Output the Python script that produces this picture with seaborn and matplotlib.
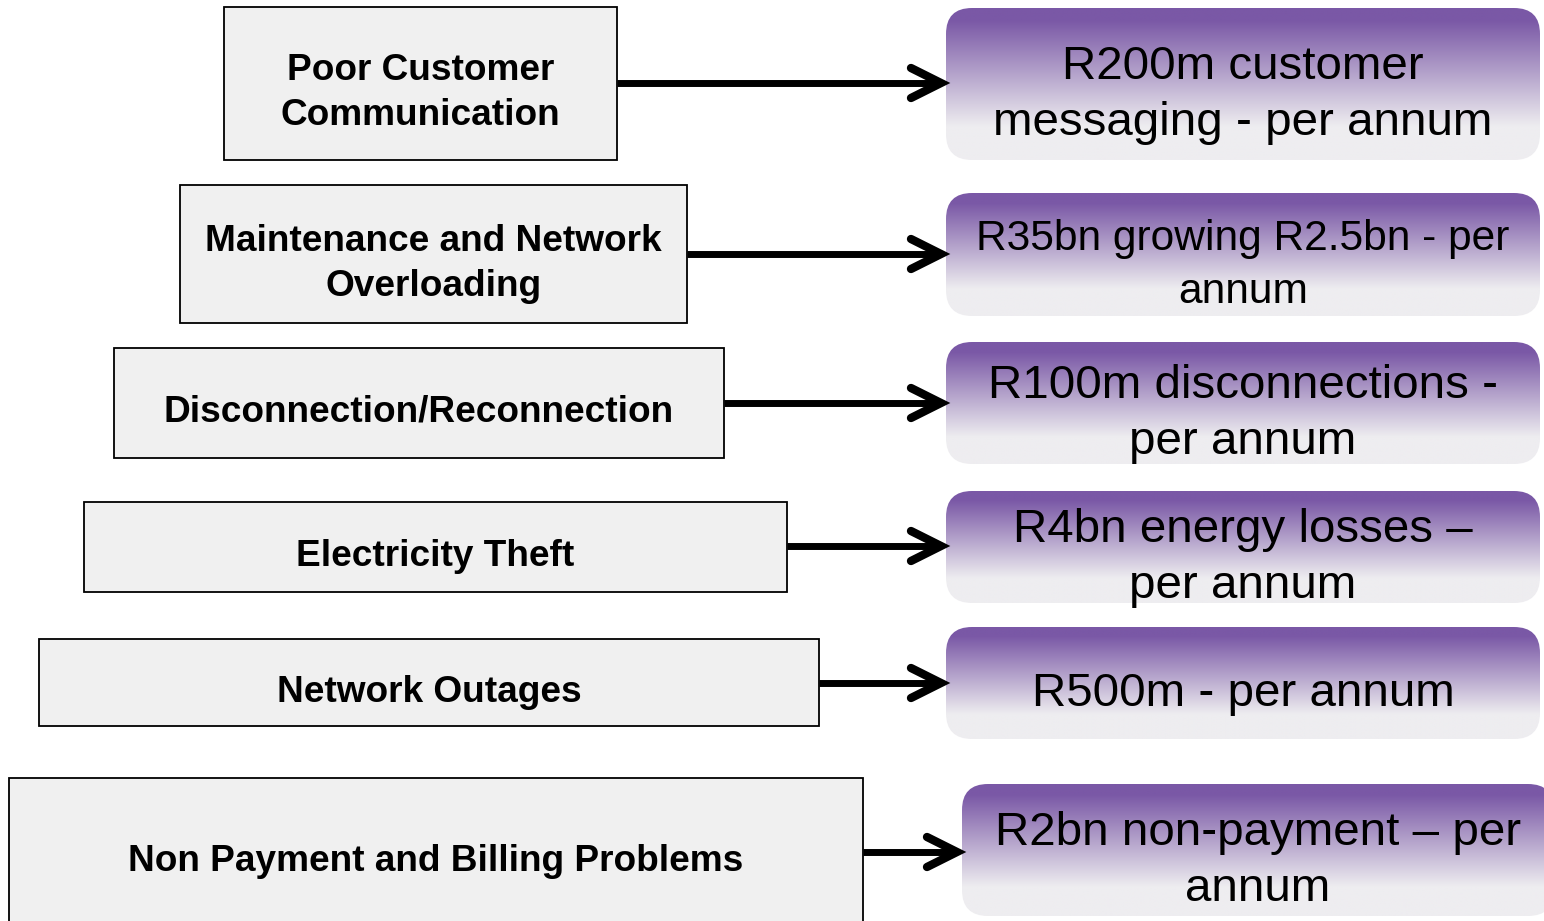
import numpy as np
import matplotlib
matplotlib.use("Agg")
import matplotlib.pyplot as plt
import seaborn as sns
from matplotlib.patches import Rectangle, FancyBboxPatch
from matplotlib.colors import to_rgb

sns.set_theme(style="white")
plt.rcParams['font.family'] = ['Liberation Sans', 'DejaVu Sans']

# ---- content ----
causes = [
    "Poor Customer\nCommunication",
    "Maintenance and Network\nOverloading",
    "Disconnection/Reconnection",
    "Electricity Theft",
    "Network Outages",
    "Non Payment and Billing Problems",
]
costs = [
    "R200m customer\nmessaging - per annum",
    "R35bn growing R2.5bn - per\nannum",
    "R100m disconnections -\nper annum",
    "R4bn energy losses \u2013\nper annum",
    "R500m - per annum",
    "R2bn non-payment \u2013 per\nannum",
]
cost_font_px = [47.5, 42.5, 47.5, 47.5, 47.5, 47.5]
cost_linespacing = [1.35, 1.40, 1.35, 1.35, 1.35, 1.35]

# ---- layout (pixel units) ----
left_x0 = [224, 180, 114, 84, 39, 9]
left_x1 = [617, 687, 724, 787, 819, 863]
left_y0 = [7, 185, 348, 502, 639, 778]
left_y1 = [160, 323, 458, 592, 726, 930]
left_text_y = [90, 261, 409, 553, 689, 858]
right_x0 = [946, 946, 946, 946, 946, 962]
right_x1 = [1540, 1540, 1540, 1540, 1540, 1554]
right_y0 = [8, 193, 342, 491, 627, 784]
right_y1 = [160, 316, 464, 603, 739, 916]
arrow_y = [83, 254, 403, 546, 683, 852]

W, H = 1544, 921
fig = plt.figure(figsize=(W / 100, H / 100), dpi=100)
ax = fig.add_axes([0, 0, 1, 1])
ax.set_xlim(0, W)
ax.set_ylim(H, 0)
ax.axis("off")

purple = np.array(to_rgb("#7A58A6"))
light = np.array(to_rgb("#EEEDF0"))
t = np.linspace(0, 1, 256)
f = np.clip((t - 0.08) / 0.7, 0, 1)
grad = purple[None, :] * (1 - f[:, None]) + light[None, :] * f[:, None]
grad_img = np.repeat(grad[:, None, :], 2, axis=1)

left_fs = 37 * 0.72

for i in range(len(causes)):
    # left box
    ax.add_patch(Rectangle((left_x0[i], left_y0[i]), left_x1[i] - left_x0[i],
                           left_y1[i] - left_y0[i], facecolor="#F0F0F0",
                           edgecolor="black", lw=1.3, zorder=2))
    ax.text((left_x0[i] + left_x1[i]) / 2, left_text_y[i] + 3, causes[i],
            ha="center", va="center", fontsize=left_fs, fontweight="bold",
            color="black", linespacing=1.38, zorder=3)

    # right gradient rounded box
    x0, x1, y0, y1 = right_x0[i], right_x1[i], right_y0[i], right_y1[i]
    patch = FancyBboxPatch((x0, y0), x1 - x0, y1 - y0,
                           boxstyle="round,pad=0,rounding_size=26",
                           facecolor="none", edgecolor="none", zorder=2)
    ax.add_patch(patch)
    im = ax.imshow(grad_img, extent=(x0, x1, y1, y0), aspect="auto",
                   zorder=2, interpolation="bilinear")
    im.set_clip_path(patch)
    ax.text((x0 + x1) / 2, (y0 + y1) / 2 + 11, costs[i], ha="center",
            va="center", fontsize=cost_font_px[i] * 0.72, color="black",
            linespacing=cost_linespacing[i], zorder=3)

    # arrow
    y = arrow_y[i]
    tip = x0 - 5
    ax.plot([left_x1[i], tip - 4], [y, y], color="black", lw=5.0,
            solid_capstyle="butt", zorder=4)
    ax.plot([tip - 30, tip, tip - 30], [y - 15, y, y + 15], color="black",
            lw=6.0, solid_capstyle="round", solid_joinstyle="miter", zorder=4)

fig.savefig("out.png", dpi=100)
